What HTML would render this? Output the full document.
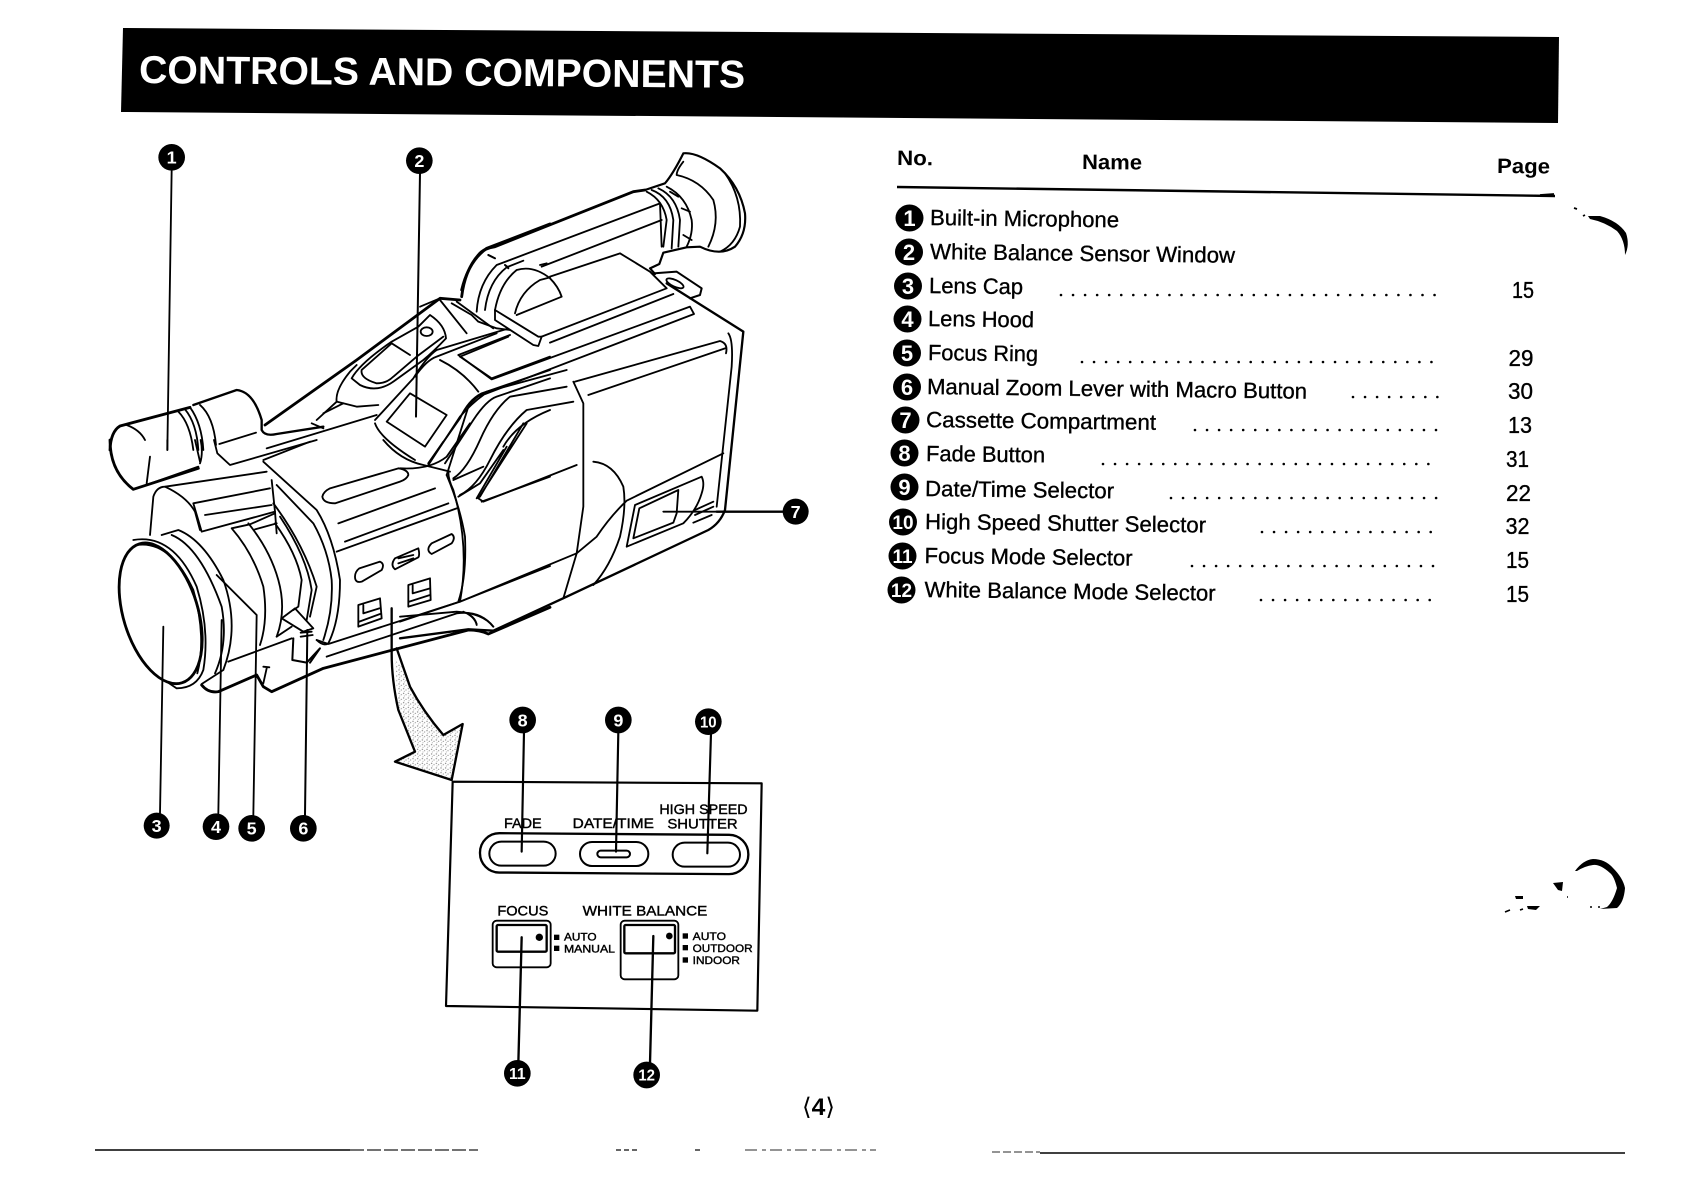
<!DOCTYPE html>
<html><head><meta charset="utf-8"><style>
html,body{margin:0;padding:0;background:#fff}
svg{display:block}
text{font-family:"Liberation Sans","DejaVu Sans",sans-serif;fill:#000}
.l{fill:none;stroke:#000;stroke-width:5.5;stroke-linejoin:round;stroke-linecap:round}
.t{fill:none;stroke:#000;stroke-width:8.5;stroke-linejoin:round;stroke-linecap:round}
.n{fill:#fff;font-weight:bold;font-size:54px;text-anchor:middle}
.n2{fill:#fff;font-weight:bold;font-size:46px;text-anchor:middle}
.m{fill:#fff;font-weight:bold;text-anchor:middle}
.d{stroke:#000;stroke-width:2.6;stroke-linecap:round;stroke-dasharray:0 12.05;fill:none}
.r{font-size:22px;stroke:#000;stroke-width:.35}
.p{font-size:23px;stroke:#000;stroke-width:.35}
.b{font-weight:bold;font-size:21px}
</style></head><body>
<svg width="1683" height="1191" viewBox="0 0 1683 1191" xmlns="http://www.w3.org/2000/svg">
<defs>
<pattern id="sp" width="14" height="14" patternUnits="userSpaceOnUse">
<rect width="14" height="14" fill="#fff"/><circle cx="3" cy="4" r="2" fill="#777"/><circle cx="10" cy="8" r="1.8" fill="#888"/><circle cx="5" cy="12" r="1.6" fill="#999"/>
</pattern>
</defs>
<rect width="1683" height="1191" fill="#fff"/>

<!-- header -->
<polygon points="123,28 1559,37 1558,123 121,112" fill="#000"/>
<text transform="translate(139,83) rotate(.45)" font-size="39" font-weight="bold" style="fill:#fff" textLength="606" lengthAdjust="spacingAndGlyphs">CONTROLS AND COMPONENTS</text>

<!-- Z1 group: upper-left camera -->
<g transform="translate(90,130) scale(.33333)">
<path class="l" d="M245 120 L232 960"/>
<path class="t" style="stroke-width:6" d="M990 130 L978 860"/>
<circle cx="245" cy="82" r="40"/><text class="n" x="245" y="101">1</text>
<circle cx="988" cy="92" r="40"/><text class="n" x="988" y="111">2</text>
<path class="t" d="M60 960 Q62 905 90 888 L300 832"/>
<path class="l" d="M110 885 Q150 900 165 930"/>
<path class="l" d="M265 845 Q300 880 310 960M285 838 Q320 880 325 960M300 832 Q335 880 340 960"/>
<path class="t" style="stroke-width:7" d="M310 825 L440 780 Q490 785 515 870 L515 900 Q525 920 560 912 L700 890"/>
<path class="l" d="M330 825 Q370 860 378 945M388 942 L498 908"/>
<path class="t" d="M525 885 L800 690 L1050 505 L1110 510"/>
<path class="t" d="M1115 480 Q1135 395 1190 355 L1380 282"/>
<path class="l" d="M665 880 L700 895 M680 870 L740 815 Q735 780 780 725 L800 705"/>
<path class="l" d="M740 815 L800 830 L865 825M700 850 L760 820"/>
<path class="l" d="M785 745 Q810 700 905 635 L985 590 L1020 555 Q1065 585 1068 625 Q1030 665 1000 690 L910 755 Q860 790 810 765 Z"/>
<path class="l" d="M815 720 Q810 745 860 760 Q890 760 910 740 L980 680 L1060 620M815 720 L905 640 L960 675"/>
<ellipse class="l" cx="1010" cy="605" rx="18" ry="13"/>
<path class="l" d="M1050 510 L1130 610M1100 515 L1210 595"/>
<path class="l" d="M855 870 L970 745 Q1010 680 1040 660 L1250 597"/>
<path class="l" d="M975 740 Q1010 690 1040 680 L1220 610"/>
<path class="l" d="M960 790 L1070 855 L1005 950 L890 875 Z"/>
<path class="l" d="M855 880 Q870 925 975 990"/>
<path class="l" d="M1050 690 Q1120 725 1165 785"/>
<path class="l" d="M1110 680 L1205 745 L1380 680M1110 680 L1255 620"/>
<path class="l" d="M530 955 L860 855"/>
<path class="l" d="M1015 1000 L1110 865 Q1135 810 1175 790 L1380 720M1065 1000 L1150 870 Q1190 810 1220 800 L1380 745"/>
<path class="l" d="M1240 950 Q1280 880 1380 840"/>
<path class="l" d="M1195 375 L1215 385M1245 405 L1255 412M1350 405 L1370 400"/>
</g>

<!-- Z2 group: lens -->
<g transform="translate(90,440) scale(.33333)">
<path class="t" d="M60 0 Q60 95 130 148 L325 85"/>
<path class="l" d="M232 0 L232 30M180 50 L170 130M315 0 L330 65M332 0 Q340 40 330 70M140 145 L325 80M372 0 L382 40 L420 75 L680 0"/>
<path class="l" d="M520 60 L660 5"/>
<ellipse class="t" cx="212" cy="520" rx="112" ry="218" transform="rotate(-17 212 520)"/>
<path class="l" d="M130 300 Q250 280 320 440 Q360 570 340 690 Q320 745 260 745 L230 725"/>
<path class="l" d="M140 315 Q240 300 310 450 Q350 590 322 700"/>
<path class="l" d="M215 285 L265 270 Q340 300 400 420 Q450 560 400 690 L335 732"/>
<path class="l" d="M245 285 Q330 320 395 500 Q415 610 375 700"/>
<path class="t" style="stroke-width:5.5" d="M180 285 L190 170 Q200 140 225 140 L530 95"/>
<path class="l" d="M225 140 Q290 170 315 215 L330 270"/>
<path class="l" d="M310 190 L335 275 L555 215 M310 190 L540 145M345 225 L545 195"/>
<path class="l" d="M520 65 L680 210 Q730 290 750 420 Q750 540 715 610 Q700 620 680 600"/>
<path class="l" d="M545 120 L555 215 L560 280"/>
<path class="l" d="M425 265 L480 253 L555 220M425 265 Q490 340 520 440 Q535 540 510 615"/>
<path class="l" d="M475 250 Q540 330 565 420 Q590 510 560 590M495 268 L560 250"/>
<path class="l" d="M555 250 Q620 340 635 420 L625 500 L610 510"/>
<path class="l" d="M550 190 Q640 310 680 440 L660 530M570 230 Q650 350 665 450 L650 540"/>
<path class="l" d="M560 135 L670 250 Q715 330 725 420 Q730 510 700 600"/>
<path class="l" d="M575 535 L615 505 L670 565 L640 575 Z"/>
<path class="l" d="M560 590 L605 560M415 665 L605 595"/>
<path class="t" style="stroke-width:6" d="M610 595 L607 660 L650 668 L690 625 L660 668"/>
<path class="t" d="M335 735 Q355 760 385 755 L500 705 L520 740 L545 755 L700 685 L1135 570 Q1170 570 1195 582 L1380 502"/>
<path class="l" d="M530 685 L520 730M520 680 L538 682"/>
<path class="l" d="M710 650 L1100 520 Q1170 510 1210 560M1140 525 Q1155 535 1160 552"/>
<path class="l" d="M680 600 L715 612 L1110 485 L1380 378"/>
<path class="l" d="M1075 95 Q1075 120 1090 150 Q1140 320 1110 485"/>
<path class="l" d="M740 335 L1100 205M745 250 L1035 145M765 305 L1075 190"/>
<path class="l" d="M880 0 Q930 60 1000 75 L1080 95M1015 70 L1060 5M1090 120 L1180 80 M1105 170 L1170 130 L1240 30M1160 175 L1250 20M1175 185 L1380 110"/>
<path class="l" d="M720 145 L925 85 Q955 90 955 105 Q950 118 930 125 L735 190 Q700 190 697 170 Q700 155 720 145 Z"/>
<path class="l" d="M808 385 L870 365 Q885 372 875 390 L815 425 Q795 430 795 410 Q795 395 808 385 Z"/>
<path class="l" d="M915 355 L985 325 Q990 345 985 352 L915 388 Q900 375 915 355 Z M925 355 L970 345M925 370 L970 355"/>
<path class="l" d="M1025 310 L1085 282 Q1098 292 1085 310 L1025 342 Q1005 330 1025 310 Z"/>
<path class="l" d="M805 495 L870 475 L875 535 L805 560 Z M820 495 L820 520 L868 505M808 545 L870 522"/>
<path class="l" d="M955 435 L1020 415 L1022 480 L955 500 Z M968 435 L968 460 L1020 445M958 485 L1020 465"/>
<path class="l" d="M220 560 L210 1120"/>
<path class="l" d="M395 540 L385 1120"/>
<path class="l" d="M380 405 L500 525 L490 1125"/>
<path class="t" style="stroke-width:6" d="M652 570 L645 1125"/>
<path class="l" d="M632 578 L665 575M632 590 L668 585"/>
<polygon points="915,660 925,810 975,935 915,965 1085,1020 1118,852 1060,885 1000,815 960,740 935,680" style="fill:url(#sp);stroke:none"/>
<path class="l" style="stroke-width:7" d="M905 505 L905 640 Q905 720 925 810 L975 935 L915 965 L1085 1020 L1118 852 L1060 885 Q1000 815 960 740 L920 625"/>
<circle cx="200" cy="1157" r="39"/><text class="n" x="200" y="1176">3</text>
<circle cx="378" cy="1160" r="40"/><text class="n" x="378" y="1179">4</text>
<circle cx="485" cy="1165" r="40"/><text class="n" x="485" y="1184">5</text>
<circle cx="640" cy="1165" r="40"/><text class="n" x="640" y="1184">6</text>
</g>

<!-- Z3 group: body -->
<g transform="translate(400,140) scale(.33333)">
<path class="t" d="M185 470 Q195 390 235 345 Q250 325 285 320 L700 155 L735 150"/>
<path class="t" style="stroke-width:6.5" d="M735 150 L795 130 Q820 100 850 40 Q890 35 960 85 Q1020 140 1035 220 Q1040 280 1005 320 Q960 350 900 320 L860 322 L790 338 L778 372 L750 385 L765 402"/>
<path class="l" d="M850 65 Q830 90 830 105 Q900 120 940 180 Q960 250 925 320"/>
<path class="l" d="M975 100 Q1025 170 1020 260 Q1005 315 960 335"/>
<path class="l" d="M740 155 Q790 180 800 240 L790 320"/>
<path class="l" d="M755 150 Q810 170 820 240 L815 325M775 145 Q830 170 840 240 L835 320M800 140 Q860 170 875 240 Q880 280 860 320"/>
<path class="l" d="M810 155 L835 170M845 205 L870 215M850 285 L875 300"/>
<path class="l" d="M230 515 Q235 430 290 375 L780 190"/>
<path class="l" d="M255 510 Q265 425 320 382 L370 362M425 380 L785 240"/>
<path class="l" d="M265 345 L285 355M315 375 L325 385"/>
<path class="l" d="M780 190 L785 320"/>
<path class="l" d="M285 510 Q300 430 350 390 Q400 375 450 415 Q475 440 485 470 L350 525"/>
<path class="l" d="M345 520 Q360 455 420 420 L450 412"/>
<path class="l" d="M450 410 L660 340 L750 395 L800 445 L425 590 L415 618 L400 615 L285 540 L285 510"/>
<path class="l" d="M285 510 L415 590 L425 590"/>
<path class="l" d="M155 490 L215 525 L235 545 L290 565 L330 570"/>
<path class="l" d="M120 475 L60 500"/>
<path class="l" d="M175 645 L330 585M175 645 L275 718 L870 500 L882 522 L240 768"/>
<path class="l" d="M450 608 L820 462"/>
<path class="t" style="stroke-width:6" d="M760 400 L830 395 L905 445 L900 465 L870 475"/>
<ellipse class="l" cx="825" cy="430" rx="28" ry="10" transform="rotate(25 825 430)"/>
<path class="t" style="stroke-width:7" d="M800 430 L1030 575 L975 1110 Q960 1150 925 1170 L500 1370 L280 1472 L205 1468 L0 1495"/>
<path class="l" d="M985 580 Q1000 600 995 680 L950 1100"/>
<path class="l" d="M525 725 L960 603 Q985 610 978 640M565 765 L975 625"/>
<path class="l" d="M140 1005 L205 800 Q225 770 260 755 L500 690"/>
<path class="l" d="M85 975 L180 830 Q215 790 250 765M160 1015 Q200 990 240 900 Q280 810 330 770 L500 740"/>
<path class="l" d="M180 1065 Q230 1040 270 960 Q320 860 380 810 L520 785"/>
<path class="l" d="M520 725 L550 790 L550 1100 L530 1240 L490 1375"/>
<path class="l" d="M380 850 L235 1075 L250 1085 L530 975M370 850 L240 1070"/>
<path class="l" d="M0 985 Q90 990 140 950 L210 850"/>
<path class="l" d="M140 1005 Q180 1100 195 1190 Q200 1310 175 1385"/>
<path class="l" d="M580 965 Q640 970 670 1040 Q680 1100 660 1190 Q630 1280 580 1335"/>
<path class="l" d="M970 940 L680 1082 Q630 1130 590 1190 L530 1240 L180 1385 L0 1445"/>
<path class="l" d="M680 1220 L705 1095 L905 1010 Q915 1030 905 1060 Q890 1110 850 1150 Z"/>
<path class="l" d="M700 1195 L718 1105 L835 1050 L830 1120 L820 1148 Z"/>
<path class="l" d="M0 1430 L170 1415 Q250 1420 280 1460M190 1415 Q225 1430 230 1455"/>
<path class="l" d="M885 1110 L940 1085M885 1125 L940 1100M880 1148 L935 1125"/>
<path class="l" d="M790 1115 L960 1115"/>
<path class="t" style="stroke-width:7" d="M950 1115 L1150 1115"/>
<circle cx="1187" cy="1115" r="39"/><text class="n" x="1187" y="1134">7</text>
</g>

<!-- Z4 group: inset -->
<g transform="translate(380,690) scale(.33333)">
<path class="t" style="stroke-width:6.5" d="M218 275 L1145 280 L1132 962 L198 948 Z"/>
<rect class="t" style="stroke-width:7" x="300" y="432" width="805" height="118" rx="58" transform="rotate(.4 700 490)"/>
<rect class="t" style="stroke-width:6" x="328" y="455" width="199" height="72" rx="36"/>
<rect class="t" style="stroke-width:6" x="600" y="456" width="205" height="72" rx="36"/>
<rect class="t" style="stroke-width:6" x="878" y="458" width="202" height="72" rx="36"/>
<rect class="t" style="stroke-width:6" x="652" y="482" width="98" height="20" rx="10"/>
<g style="stroke:#000;stroke-width:1.2">
<text x="372" y="414" font-size="42" textLength="113" lengthAdjust="spacingAndGlyphs">FADE</text>
<text x="578" y="414" font-size="42" textLength="244" lengthAdjust="spacingAndGlyphs">DATE/TIME</text>
<text x="838" y="372" font-size="42" textLength="265" lengthAdjust="spacingAndGlyphs">HIGH SPEED</text>
<text x="862" y="416" font-size="42" textLength="211" lengthAdjust="spacingAndGlyphs">SHUTTER</text>
<text x="352" y="677" font-size="42" textLength="153" lengthAdjust="spacingAndGlyphs">FOCUS</text>
<text x="608" y="677" font-size="42" textLength="374" lengthAdjust="spacingAndGlyphs">WHITE BALANCE</text>
<text x="552" y="752" font-size="33" textLength="98" lengthAdjust="spacingAndGlyphs">AUTO</text>
<text x="552" y="788" font-size="33" textLength="153" lengthAdjust="spacingAndGlyphs">MANUAL</text>
<text x="938" y="750" font-size="33" textLength="100" lengthAdjust="spacingAndGlyphs">AUTO</text>
<text x="938" y="786" font-size="33" textLength="180" lengthAdjust="spacingAndGlyphs">OUTDOOR</text>
<text x="938" y="822" font-size="33" textLength="142" lengthAdjust="spacingAndGlyphs">INDOOR</text>
</g>
<rect class="l" x="338" y="692" width="174" height="140" rx="12"/>
<rect class="t" style="stroke-width:7" x="350" y="705" width="150" height="80" rx="4"/>
<circle cx="478" cy="742" r="11"/>
<rect class="l" x="722" y="692" width="173" height="176" rx="12"/>
<rect class="t" style="stroke-width:7" x="733" y="705" width="152" height="85" rx="4"/>
<circle cx="868" cy="738" r="10"/>
<rect x="522" y="734" width="16" height="16"/><rect x="522" y="767" width="16" height="16"/>
<rect x="908" y="730" width="16" height="16"/><rect x="908" y="765" width="16" height="16"/><rect x="908" y="802" width="16" height="16"/>
<path class="t" style="stroke-width:6.5" d="M432 125 L425 485M715 125 L708 485M993 130 L982 490"/>
<path class="t" style="stroke-width:7" d="M425 742 L415 1120M820 738 L810 1120"/>
<circle cx="428" cy="90" r="40"/><text class="n" x="428" y="109">8</text>
<circle cx="715" cy="90" r="40"/><text class="n" x="715" y="109">9</text>
<circle cx="985" cy="95" r="40"/><text class="n2" x="985" y="112" textLength="50" lengthAdjust="spacingAndGlyphs">10</text>
<circle cx="412" cy="1150" r="40"/><text class="n2" x="412" y="1167" textLength="50" lengthAdjust="spacingAndGlyphs">11</text>
<circle cx="800" cy="1155" r="40"/><text class="n2" x="800" y="1172" textLength="50" lengthAdjust="spacingAndGlyphs">12</text>
</g>

<!-- table -->
<text class="b" transform="translate(897,165) rotate(.5)" textLength="36" lengthAdjust="spacingAndGlyphs">No.</text>
<text class="b" transform="translate(1082,169) rotate(.5)" textLength="60" lengthAdjust="spacingAndGlyphs">Name</text>
<text class="b" transform="translate(1497,173) rotate(.5)" textLength="53" lengthAdjust="spacingAndGlyphs">Page</text>
<path d="M897 187 L1555 196" stroke="#000" stroke-width="2.4" fill="none"/>

<g>
<ellipse cx="909.5" cy="218" rx="14" ry="13.5"/><text class="m" x="909.5" y="226" font-size="22">1</text>
<ellipse cx="909" cy="252" rx="14" ry="13.5"/><text class="m" x="909" y="260" font-size="22">2</text>
<ellipse cx="908" cy="286" rx="14" ry="13.5"/><text class="m" x="908" y="294" font-size="22">3</text>
<ellipse cx="907.5" cy="319" rx="14" ry="13.5"/><text class="m" x="907.5" y="327" font-size="22">4</text>
<ellipse cx="907" cy="353" rx="14" ry="13.5"/><text class="m" x="907" y="361" font-size="22">5</text>
<ellipse cx="907" cy="387" rx="14" ry="13.5"/><text class="m" x="907" y="395" font-size="22">6</text>
<ellipse cx="905.5" cy="420" rx="14" ry="13.5"/><text class="m" x="905.5" y="428" font-size="22">7</text>
<ellipse cx="904.5" cy="453" rx="14" ry="13.5"/><text class="m" x="904.5" y="461" font-size="22">8</text>
<ellipse cx="904.5" cy="487" rx="14" ry="13.5"/><text class="m" x="904.5" y="495" font-size="22">9</text>
<ellipse cx="903" cy="522" rx="14" ry="13.5"/><text class="m" x="903" y="529" font-size="19">10</text>
<ellipse cx="902.5" cy="556" rx="14" ry="13.5"/><text class="m" x="902.5" y="563" font-size="19">11</text>
<ellipse cx="901.5" cy="590" rx="14" ry="13.5"/><text class="m" x="901.5" y="597" font-size="19">12</text>
</g>
<text class="r" transform="translate(930,225) rotate(.7)" textLength="189" lengthAdjust="spacingAndGlyphs">Built-in Microphone</text>
<text class="r" transform="translate(930,259) rotate(.7)" textLength="305" lengthAdjust="spacingAndGlyphs">White Balance Sensor Window</text>
<text class="r" transform="translate(929,293) rotate(.7)" textLength="94" lengthAdjust="spacingAndGlyphs">Lens Cap</text>
<text class="r" transform="translate(928,326) rotate(.7)" textLength="106" lengthAdjust="spacingAndGlyphs">Lens Hood</text>
<text class="r" transform="translate(928,360) rotate(.7)" textLength="110" lengthAdjust="spacingAndGlyphs">Focus Ring</text>
<text class="r" transform="translate(927,394) rotate(.7)" textLength="380" lengthAdjust="spacingAndGlyphs">Manual Zoom Lever with Macro Button</text>
<text class="r" transform="translate(926,427) rotate(.7)" textLength="230" lengthAdjust="spacingAndGlyphs">Cassette Compartment</text>
<text class="r" transform="translate(926,461) rotate(.7)" textLength="119" lengthAdjust="spacingAndGlyphs">Fade Button</text>
<text class="r" transform="translate(925,496) rotate(.7)" textLength="189" lengthAdjust="spacingAndGlyphs">Date/Time Selector</text>
<text class="r" transform="translate(925,529) rotate(.7)" textLength="281" lengthAdjust="spacingAndGlyphs">High Speed Shutter Selector</text>
<text class="r" transform="translate(924.5,563) rotate(.7)" textLength="208" lengthAdjust="spacingAndGlyphs">Focus Mode Selector</text>
<text class="r" transform="translate(924.5,597) rotate(.7)" textLength="291" lengthAdjust="spacingAndGlyphs">White Balance Mode Selector</text>

<path class="d" d="M1061 295 H1440"/>
<path class="d" d="M1082 362 H1441"/>
<path class="d" d="M1353 397 H1439"/>
<path class="d" d="M1195 430 H1439"/>
<path class="d" d="M1103 464 H1438"/>
<path class="d" d="M1171 498 H1438"/>
<path class="d" d="M1262 532 H1437"/>
<path class="d" d="M1192 566 H1436"/>
<path class="d" d="M1261 600 H1436"/>

<text class="p" x="1512" y="298" textLength="22" lengthAdjust="spacingAndGlyphs">15</text>
<text class="p" x="1508.5" y="366" textLength="25" lengthAdjust="spacingAndGlyphs">29</text>
<text class="p" x="1508" y="399" textLength="25" lengthAdjust="spacingAndGlyphs">30</text>
<text class="p" x="1508" y="433" textLength="24" lengthAdjust="spacingAndGlyphs">13</text>
<text class="p" x="1506" y="467" textLength="23" lengthAdjust="spacingAndGlyphs">31</text>
<text class="p" x="1506" y="501" textLength="25" lengthAdjust="spacingAndGlyphs">22</text>
<text class="p" x="1505.5" y="534" textLength="24" lengthAdjust="spacingAndGlyphs">32</text>
<text class="p" x="1506" y="568" textLength="23" lengthAdjust="spacingAndGlyphs">15</text>
<text class="p" x="1506" y="602" textLength="23" lengthAdjust="spacingAndGlyphs">15</text>

<!-- page number -->
<text x="802" y="1115" font-size="24" textLength="33" lengthAdjust="spacingAndGlyphs">⟨<tspan font-weight="bold">4</tspan>⟩</text>

<!-- bottom rules -->
<path d="M95 1150 H350" stroke="#000" stroke-width="1.6"/>
<path d="M350 1150 H478" stroke="#444" stroke-width="1.4" stroke-dasharray="14 3"/>
<path d="M616 1150 H640M695 1150 H700" stroke="#333" stroke-width="1.4" stroke-dasharray="5 3"/>
<path d="M745 1150 H876" stroke="#555" stroke-width="1.3" stroke-dasharray="12 5 4 4"/>
<path d="M992 1152 H1040" stroke="#555" stroke-width="1.2" stroke-dasharray="8 3"/>
<path d="M1040 1153 H1625" stroke="#000" stroke-width="1.6"/>

<!-- crescents / scan marks -->
<path d="M1588 216 L1600 216 Q1618 221 1626 233 Q1630 245 1625 255 Q1625 240 1617 231 Q1605 222 1590 219 Z" fill="#000"/>
<path d="M1574 208 L1577 209M1583 216 L1585 215M1540 195 L1554 194" stroke="#000" stroke-width="1.8"/>
<path d="M1575 871 Q1583 860 1593 859 Q1605 859 1613 868 Q1623 878 1625 888 Q1624 902 1617 908 L1600 909 L1607 907 Q1613 902 1617 888 Q1614 876 1610 873 Q1600 864 1593 865 Q1585 866 1577 871 Z" fill="#000"/>
<path d="M1553 883 L1563 882 L1562 891 L1558 890 Z M1515 896 L1523 896 L1523 899 L1516 899 Z M1527 906 L1540 906 L1536 910 L1528 909 Z" fill="#000"/>
<path d="M1505 912 L1510 910M1520 910 L1523 909M1567 897 L1568 897M1590 907 L1592 907M1598 907 L1600 907" stroke="#000" stroke-width="1.6"/>
</svg>
</body></html>
